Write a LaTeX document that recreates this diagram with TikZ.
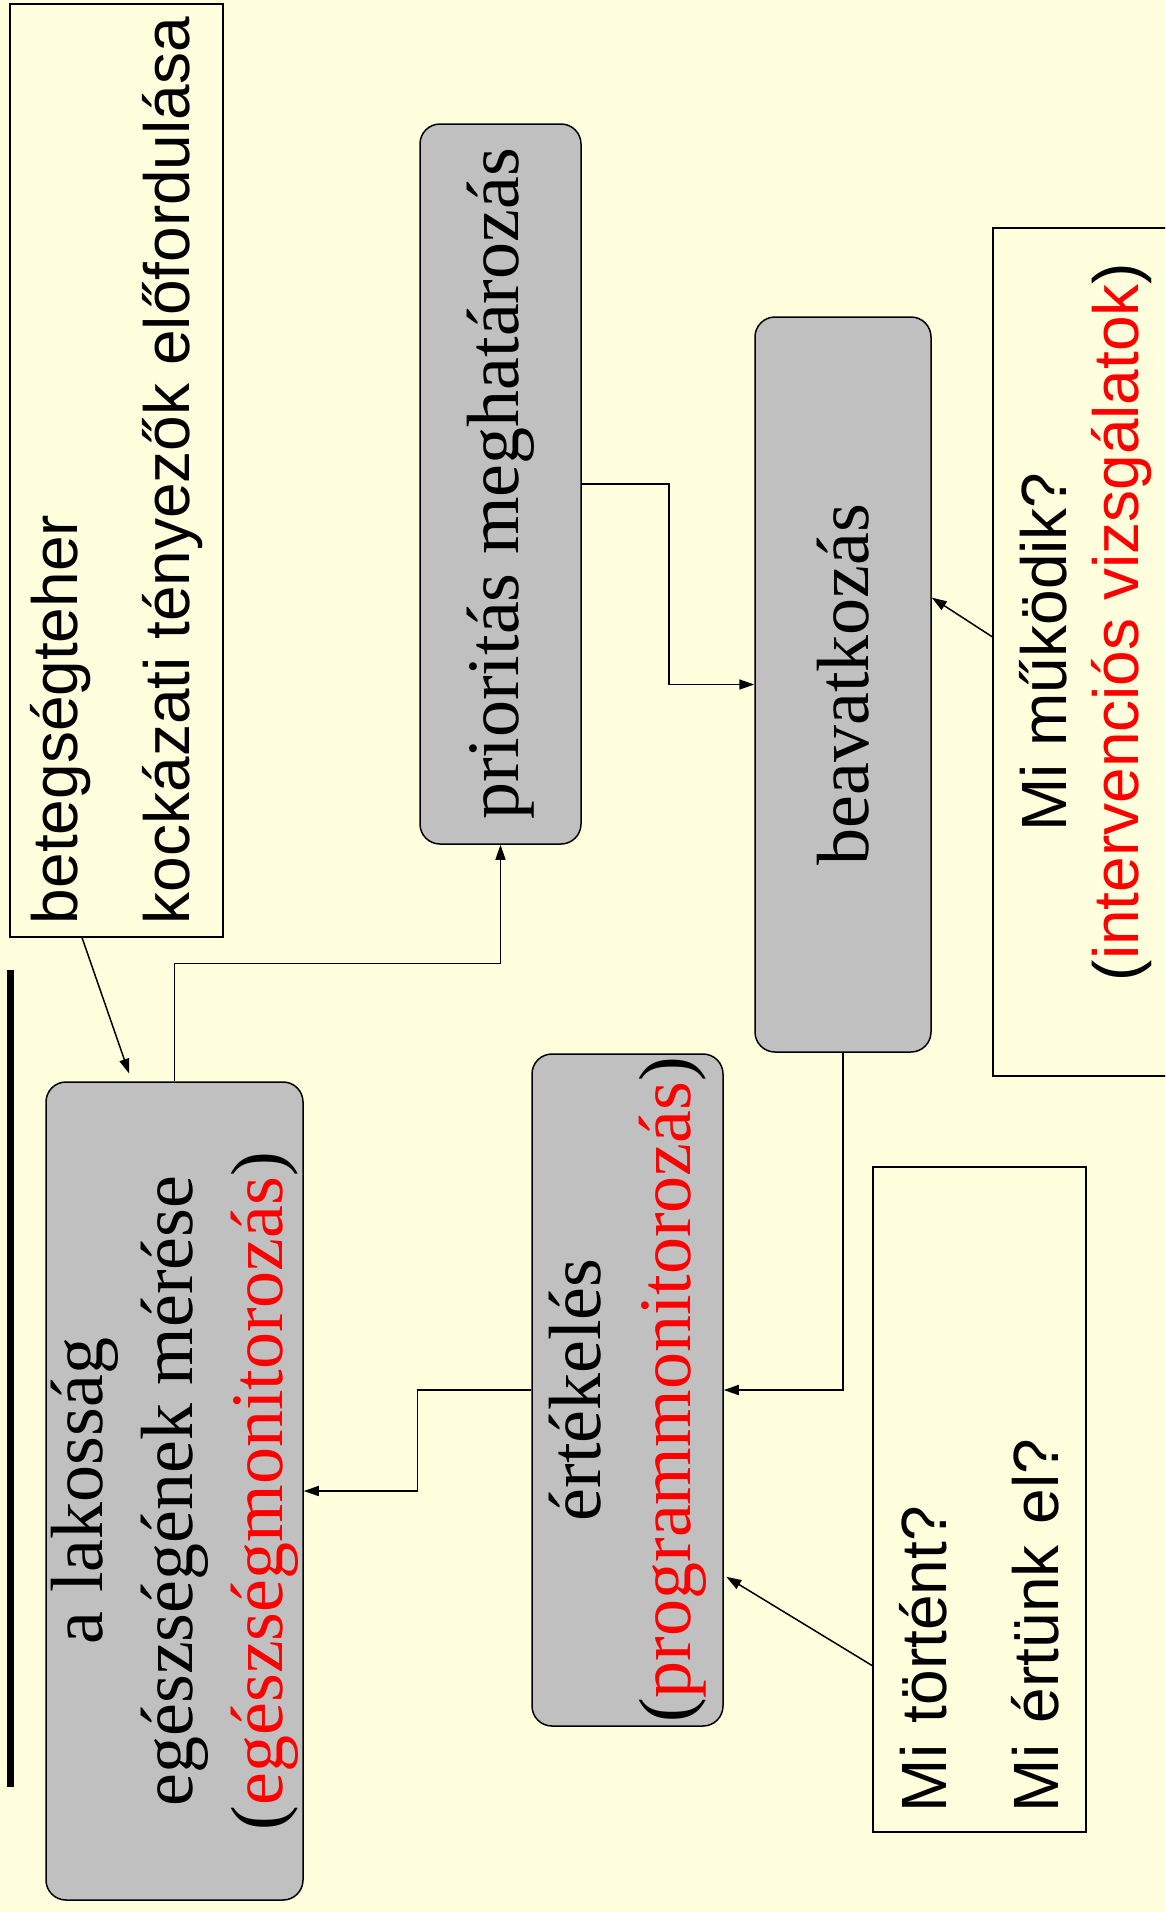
\documentclass[tikz,border=0pt]{standalone}
\usepackage{fontspec}
\setmainfont{Liberation Serif}
\setsansfont{Liberation Sans}
\usepackage{xcolor}
\usepackage{tikz}
\usetikzlibrary{arrows.meta, calc}
\definecolor{slidebg}{RGB}{255,255,221}
\definecolor{boxgray}{RGB}{192,192,192}
\definecolor{notered}{RGB}{255,0,0}

\begin{document}
\begin{tikzpicture}[
  x=1pt, y=-1pt,
  stage/.style={rotate=90, draw, line width=1.5pt, rounded corners=20pt,
                fill=boxgray, align=center, inner sep=3pt,
                font=\fontsize{74}{90}\selectfont},
  note/.style={rotate=90, draw, line width=1.8pt, align=left, inner sep=6pt,
               font=\sffamily\fontsize{64}{112}\selectfont},
  arrow/.style={-{Triangle[length=15pt, width=10pt]}, line width=1.5pt}
]

% Slide background
\fill[slidebg] (0,0) rectangle (1165,1912);
\useasboundingbox (0,0) rectangle (1165,1912);
\clip (0,0) rectangle (1165,1912);

% Title rule
\draw[line width=7pt] (10,970) -- (10,1787);

% Cycle stages
\node[stage, minimum width=818pt, minimum height=257pt] (lak) at (174.5,1491)
  {a lakosság\\egészségének mérése\\(\textcolor{notered}{egészségmonitorozás})};
\node[stage, minimum width=720pt, minimum height=161pt] (prio) at (500.5,484)
  {prioritás meghatározás};
\node[stage, minimum width=735pt, minimum height=176pt] (beav) at (843,684.5)
  {beavatkozás};
\node[stage, minimum width=672pt, minimum height=191pt] (ert) at (627.5,1390)
  {értékelés\\(\textcolor{notered}{programmonitorozás})};

% Notes
\node[note, minimum width=933pt, minimum height=213pt] (risk) at (116.5,470.5)
  {betegségteher\\kockázati tényezők előfordulása};
\node[note, align=center, font=\sffamily\fontsize{64}{72}\selectfont,
      minimum width=848pt, minimum height=186pt] (muk) at (1086,652)
  {Mi működik?\\\hspace*{60pt}(\textcolor{notered}{intervenciós vizsgálatok})};
\node[note, text width=625pt, inner xsep=20pt, minimum height=213pt] (tort)
  at (979.5,1499.5) {Mi történt?\\Mi értünk el?};

% Cycle arrows
\draw[arrow] (lak.east) -- ++(0,-118) -| (prio.west);
\draw[arrow] (prio.south) -- ++(87,0) |- (beav.north);
\draw[arrow] (beav.west) |- (ert.south);
\draw[arrow] (ert.north) -- ++(-114,0) |- (lak.south);

% Note arrows
\draw[arrow, shorten >=8pt] ($(risk.north west)!0.34!(risk.south west)$)
  -- ($(lak.north east)!0.335!(lak.south east)$);
\draw[arrow] ($(muk.north west)!0.518!(muk.north east)$)
  -- ($(beav.south west)!0.618!(beav.south east)$);
\draw[arrow, shorten >=3pt] ($(tort.north west)!0.251!(tort.north east)$)
  -- ($(ert.south west)!0.225!(ert.south east)$);

\end{tikzpicture}
\end{document}
